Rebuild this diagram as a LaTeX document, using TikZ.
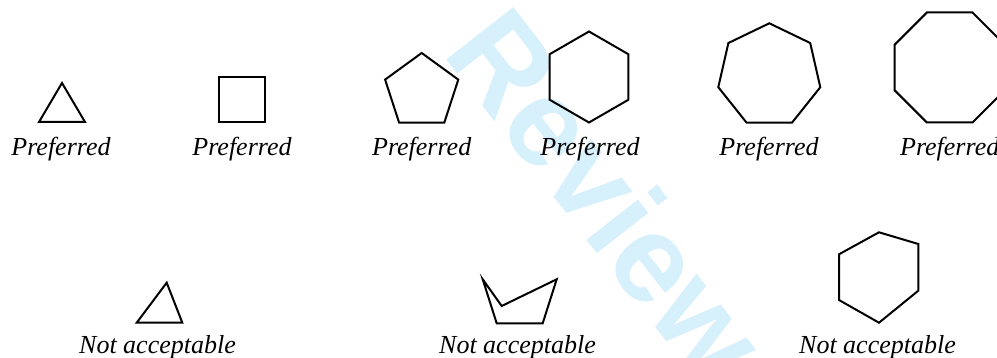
\documentclass[tikz,border=0pt]{standalone}
\usepackage{fontspec}
\setmainfont{Liberation Serif}
\newfontfamily\wmfont{Liberation Sans}
\usetikzlibrary{backgrounds}
\definecolor{wmblue}{RGB}{214,240,252}

\begin{document}
\begin{tikzpicture}[
  x=1pt, y=-1pt,
  shp/.style={draw=black, line width=2pt, line join=miter},
  lbl/.style={anchor=base, inner sep=0pt, font=\fontsize{26}{30}\selectfont\itshape},
  wmark/.style={text=wmblue, inner sep=0pt, font=\fontsize{124}{130}\selectfont\wmfont\bfseries},
]

\clip (0,0) rectangle (997,358);

% ---- watermark ----
\begin{scope}[on background layer]
  \node[wmark, rotate=-52] (wm) at (608,195) {Review};
\end{scope}

% ============================================================
% TOP ROW (regular polygons)
% ============================================================
\draw[shp] (62,83) -- (39,122) -- (85,122) -- cycle;                          % triangle
\draw[shp] (219,77) rectangle (265,122);                                      % square
\draw[shp] (421.7,53.0) -- (458.3,79.6) -- (444.3,122.6) -- (399.1,122.6)
  -- (385.1,79.6) -- cycle;                                                   % pentagon
\draw[shp] (589,31.5) -- (628.4,54.25) -- (628.4,99.75) -- (589,122.5)
  -- (549.6,99.75) -- (549.6,54.25) -- cycle;                                 % hexagon
\draw[shp] (769.3,23.3) -- (810.2,43.0) -- (820.3,87.2) -- (792.0,122.7)
  -- (746.6,122.7) -- (718.3,87.2) -- (728.4,43.0) -- cycle;                  % heptagon
\draw[shp] (926.9,12.5) -- (972.5,12.5) -- (1004.7,44.7) -- (1004.7,90.3)
  -- (972.5,122.5) -- (926.9,122.5) -- (894.7,90.3) -- (894.7,44.7) -- cycle; % octagon

\foreach \x [count=\i] in {61, 242, 421.7, 590, 769, 949.7}{
  \node[lbl] (pref\i) at (\x,156) {Preferred};
}

% ============================================================
% BOTTOM ROW
% ============================================================
\draw[shp] (166.7,282.7) -- (136.7,322.7) -- (182.3,322.7) -- cycle;         % triangle
\draw[shp] (482.7,279.3) -- (501.7,306) -- (556.7,279.3) -- (542.7,323.3)
  -- (496.7,323.3) -- cycle;                                                  % concave
\draw[shp] (879,232.3) -- (918.3,244) -- (918.3,290.7) -- (879,322.7)
  -- (839,300) -- (839,254.3) -- cycle;                                       % hexagon

\foreach \x [count=\i] in {157.5, 517.5, 877.5}{
  \node[lbl] (notacc\i) at (\x,354) {Not acceptable};
}

\end{tikzpicture}
\end{document}
